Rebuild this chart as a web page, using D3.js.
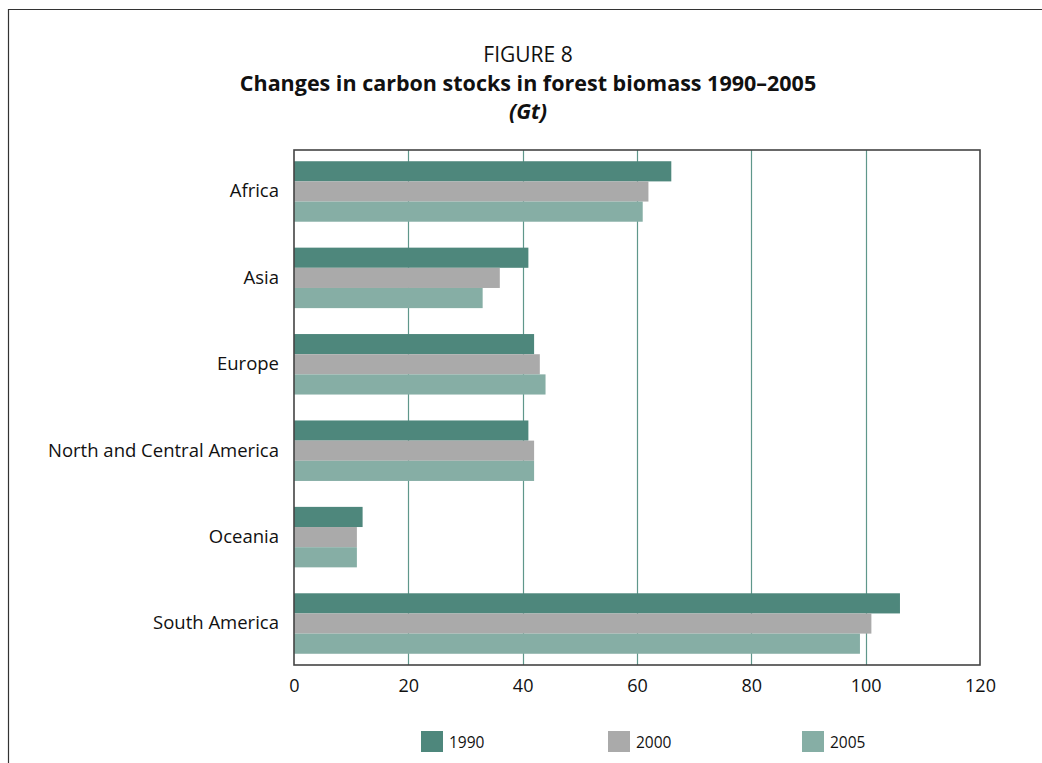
<!DOCTYPE html>
<html>
<head>
<meta charset="utf-8">
<script src="https://cdn.jsdelivr.net/npm/d3@7"></script>
<style>
  html, body { margin: 0; padding: 0; background: #fff; }
  svg { display: block; font-family: "Open Sans", "Noto Sans", sans-serif; }
</style>
</head>
<body>
<svg id="chart" width="1042" height="763"></svg>
<script>
// Carbon stocks in forest biomass by region (Gt)
const regions = ["Africa", "Asia", "Europe", "North and Central America", "Oceania", "South America"];
const years = ["1990", "2000", "2005"];
const values1990 = [66, 41, 42, 41, 12, 106];
const values2000 = [62, 36, 43, 42, 11, 101];
const values2005 = [61, 33, 44, 42, 11, 99];
const xTicks = [0, 20, 40, 60, 80, 100, 120];
const seriesColors = ["#4e877c", "#aaaaaa", "#86aea5"];

const seriesValues = [values1990, values2000, values2005];
const rows = regions.map((r, i) => ({
  region: r,
  vals: years.map((y, k) => ({ year: y, value: seriesValues[k][i] }))
}));

const svg = d3.select("#chart");
const plot = { left: 294, right: 980, top: 150, bottom: 665 };
const fontFamily = "\"Open Sans\", \"Noto Sans\", sans-serif";

// outer frame
svg.append("path")
  .attr("d", "M8.5,770 L8.5,9.5 L1050,9.5")
  .attr("fill", "none").attr("stroke", "#333").attr("stroke-width", 1.2);

// titles
svg.append("text").attr("x", 528).attr("y", 62).attr("text-anchor", "middle")
  .attr("font-size", 21).attr("fill", "#111").text("FIGURE 8");
svg.append("text").attr("x", 528).attr("y", 91).attr("text-anchor", "middle")
  .attr("font-size", 21.5).attr("font-weight", "bold").attr("fill", "#111")
  .text("Changes in carbon stocks in forest biomass 1990–2005");
svg.append("text").attr("x", 528).attr("y", 119).attr("text-anchor", "middle")
  .attr("font-size", 21.5).attr("font-weight", "bold").attr("font-style", "italic").attr("fill", "#111")
  .text("(Gt)");

const x = d3.scaleLinear().domain([0, 120]).range([plot.left, plot.right]);
const y = d3.scaleBand().domain(regions).range([plot.top, plot.bottom]).paddingInner(0.3).paddingOuter(0.13);
const yInner = d3.scaleBand().domain(years).range([0, y.bandwidth()]);
const color = d3.scaleOrdinal().domain(years).range(seriesColors);

// vertical gridlines
svg.append("g").selectAll("line")
  .data(xTicks.filter(t => t > 0 && t < 120))
  .join("line")
  .attr("x1", d => Math.round(x(d)) + 0.5).attr("x2", d => Math.round(x(d)) + 0.5)
  .attr("y1", plot.top).attr("y2", plot.bottom)
  .attr("stroke", "#5f978b").attr("stroke-width", 1.2);

// bars
const groups = svg.append("g").selectAll("g")
  .data(rows).join("g")
  .attr("transform", d => `translate(0,${y(d.region)})`);
groups.selectAll("rect")
  .data(d => d.vals).join("rect")
  .attr("x", x(0))
  .attr("y", d => yInner(d.year))
  .attr("width", d => x(d.value) - x(0))
  .attr("height", yInner.bandwidth())
  .attr("fill", d => color(d.year));

// plot frame
svg.append("rect")
  .attr("x", plot.left).attr("y", plot.top)
  .attr("width", plot.right - plot.left).attr("height", plot.bottom - plot.top)
  .attr("fill", "none").attr("stroke", "#444").attr("stroke-width", 1.6);

// x axis labels
const xAxis = d3.axisBottom(x).tickValues(xTicks).tickSize(0).tickPadding(14);
const gx = svg.append("g").attr("transform", `translate(0,${plot.bottom})`).call(xAxis);
gx.select(".domain").remove();
gx.selectAll("text").attr("font-size", 18).attr("fill", "#111").attr("font-family", fontFamily);

// y axis labels
const yAxis = d3.axisLeft(y).tickSize(0).tickPadding(15);
const gy = svg.append("g").attr("transform", `translate(${plot.left},0)`).call(yAxis);
gy.select(".domain").remove();
gy.selectAll("text").attr("font-size", 18.5).attr("fill", "#111").attr("font-family", fontFamily);

// legend
const legendX = [421, 608, 802];
const legend = svg.append("g").selectAll("g")
  .data(years).join("g")
  .attr("transform", (d, i) => `translate(${legendX[i]},731)`);
legend.append("rect").attr("width", 22).attr("height", 21).attr("fill", d => color(d));
legend.append("text").attr("x", 28).attr("y", 17)
  .attr("font-size", 15.5).attr("fill", "#111").text(d => d);
</script>
</body>
</html>
